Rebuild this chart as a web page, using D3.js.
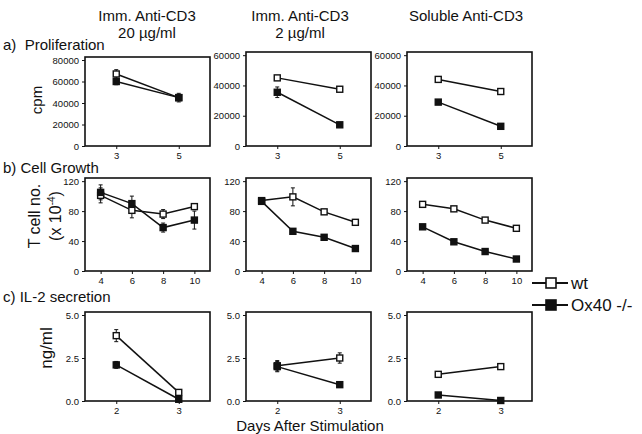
<!DOCTYPE html>
<html>
<head>
<meta charset="utf-8">
<script src="https://cdn.jsdelivr.net/npm/d3@7"></script>
<style>
  body { margin: 0; background: #fff; }
  text { font-family: "Liberation Sans", Arial, sans-serif; fill: #111; }
</style>
</head>
<body>
<script>
'use strict';

// column headers (one array of lines per column)
const columnTitles = [["Imm. Anti-CD3", "20 µg/ml"], ["Imm. Anti-CD3", "2 µg/ml"], ["Soluble Anti-CD3"]];
const rowTitles = ["a)  Proliferation", "b) Cell Growth", "c) IL-2 secretion"];
const seriesNames = ["wt", "Ox40 -/-"];

// x values (days) per row
const prolifDays = [3, 5];
const growthDays = [4, 6, 8, 10];
const il2Days = [2, 3];

// tick values
const prolifTicks = [[0, 20000, 40000, 60000, 80000], [0, 20000, 40000, 60000], [0, 20000, 40000, 60000]];
const growthTicks = [0, 40, 80, 120];
const il2Ticks = [0, 2.5, 5];

// a) proliferation, cpm (one array per column)
const prolifWt = [[67000, 45000], [45000, 37500], [44000, 36000]];
const prolifWtErr = [[4000, 2000], [1500, 800], [800, 800]];
const prolifKo = [[60000, 45000], [35500, 14000], [29000, 13000]];
const prolifKoErr = [[3000, 4000], [3500, 1000], [800, 800]];

// b) cell growth, T cell no. (x 10^-4)
const growthWt = [[101, 81, 76, 86], [94, 99, 79, 65], [89, 83, 68, 57]];
const growthWtErr = [[10, 10, 6, 3], [2, 12, 2, 3], [3, 2, 2, 3]];
const growthKo = [[105, 90, 58, 68], [93, 53, 45, 30], [59, 39, 26, 16]];
const growthKoErr = [[10, 10, 6, 12], [2, 2, 2, 2], [3, 2, 2, 2]];

// c) IL-2 secretion, ng/ml
const il2Wt = [[3.8, 0.5], [2.05, 2.5], [1.55, 2.0]];
const il2WtErr = [[0.35, 0.05], [0.3, 0.3], [0.1, 0.1]];
const il2Ko = [[2.1, 0.1], [2.0, 0.95], [0.35, 0.03]];
const il2KoErr = [[0.2, 0.05], [0.3, 0.05], [0.05, 0.03]];

// layout
const width = 642, height = 434;
const colLeft = [85, 246, 407], boxW = 125;
const rowTop = [[57, 52, 52], [178, 178, 178], [312, 312, 312]];
const rowBottom = [146, 271, 401];

const rows = [
  { days: prolifDays, xDomain: [2, 6], ticks: c => prolifTicks[c], fmt: d3.format("d"),
    wt: prolifWt, wtErr: prolifWtErr, ko: prolifKo, koErr: prolifKoErr },
  { days: growthDays, xDomain: [3, 11], ticks: () => growthTicks, fmt: d3.format("d"),
    wt: growthWt, wtErr: growthWtErr, ko: growthKo, koErr: growthKoErr },
  { days: il2Days, xDomain: [1.5, 3.5], ticks: () => il2Ticks, fmt: d3.format(".1f"),
    wt: il2Wt, wtErr: il2WtErr, ko: il2Ko, koErr: il2KoErr }
];

const svg = d3.select("body").append("svg")
  .attr("width", width)
  .attr("height", height);

// column headers
const headerX = [147, 300, 466];
columnTitles.forEach((lines, c) => {
  lines.forEach((t, i) => {
    svg.append("text")
      .attr("x", headerX[c])
      .attr("y", 21 + i * 17)
      .attr("text-anchor", "middle")
      .style("font-size", "15px")
      .text(t);
  });
});

// row titles
const rowTitleY = [50, 173, 302];
rowTitles.forEach((t, r) => {
  svg.append("text")
    .attr("x", 3)
    .attr("y", rowTitleY[r])
    .style("font-size", "15px")
    .style("white-space", "pre")
    .attr("xml:space", "preserve")
    .text(t);
});

// y axis titles
function rotated(x, y, size) {
  return svg.append("text")
    .attr("transform", `translate(${x},${y}) rotate(-90)`)
    .attr("text-anchor", "middle")
    .style("font-size", size);
}
rotated(42, 100, "15px").text("cpm");
rotated(40, 216, "16px").text("T cell no.");
let sub = rotated(61, 216, "16px");
sub.append("tspan").text("(x 10");
sub.append("tspan").attr("dy", -6).style("font-size", "10px").text("-4");
sub.append("tspan").attr("dy", 6).text(")");
rotated(52, 348, "17px").text("ng/ml");

// x axis title
svg.append("text")
  .attr("x", 310)
  .attr("y", 431)
  .attr("text-anchor", "middle")
  .style("font-size", "15px")
  .text("Days After Stimulation");

// draws one panel
function drawPanel(r, c) {
  let row = rows[r];
  let ticks = row.ticks(c);
  let yMax = ticks[ticks.length - 1];
  let top = rowTop[r][c];
  let x = d3.scaleLinear().domain(row.xDomain).range([colLeft[c], colLeft[c] + boxW]);
  let y = d3.scaleLinear().domain([0, yMax * 1.035]).range([rowBottom[r], top]);

  let g = svg.append("g");

  // frame
  g.append("rect")
    .attr("x", colLeft[c])
    .attr("y", top)
    .attr("width", boxW)
    .attr("height", rowBottom[r] - top)
    .attr("fill", "none")
    .attr("stroke", "#111")
    .attr("stroke-width", 1.6);

  let yAxis = g.append("g")
    .attr("transform", `translate(${colLeft[c]},0)`)
    .call(d3.axisLeft(y).tickValues(ticks).tickFormat(row.fmt).tickSize(3).tickPadding(3));
  let xAxis = g.append("g")
    .attr("transform", `translate(0,${rowBottom[r]})`)
    .call(d3.axisBottom(x).tickValues(row.days).tickFormat(d3.format("d")).tickSize(3).tickPadding(3));
  [xAxis, yAxis].forEach(a => {
    a.select(".domain").remove();
    a.selectAll("text").style("font-size", "9.5px").style("font-family", "Liberation Sans, Arial, sans-serif").attr("fill", "#111");
    a.selectAll("line").attr("stroke", "#111");
  });

  let series = [
    { vals: row.wt[c], errs: row.wtErr[c], fill: "#fff", size: 6 },
    { vals: row.ko[c], errs: row.koErr[c], fill: "#111", size: 6 }
  ];

  let line = d3.line()
    .x((d, i) => x(row.days[i]))
    .y(d => y(d));

  series.forEach(s => {
    // error bars
    s.vals.forEach((v, i) => {
      let cx = x(row.days[i]);
      let lo = y(Math.max(0, v - s.errs[i])), hi = y(v + s.errs[i]);
      g.append("line")
        .attr("x1", cx).attr("x2", cx)
        .attr("y1", lo).attr("y2", hi)
        .attr("stroke", "#111").attr("stroke-width", 1);
      [lo, hi].forEach(yy => {
        g.append("line")
          .attr("x1", cx - 2).attr("x2", cx + 2)
          .attr("y1", yy).attr("y2", yy)
          .attr("stroke", "#111").attr("stroke-width", 1);
      });
    });

    g.append("path")
      .datum(s.vals)
      .attr("d", line)
      .attr("fill", "none")
      .attr("stroke", "#111")
      .attr("stroke-width", 1.5);
  });

  series.forEach(s => {
    g.selectAll(null)
      .data(s.vals)
      .join("rect")
      .attr("x", (d, i) => x(row.days[i]) - s.size / 2)
      .attr("y", d => y(d) - s.size / 2)
      .attr("width", s.size)
      .attr("height", s.size)
      .attr("fill", s.fill)
      .attr("stroke", "#111")
      .attr("stroke-width", 1.4);
  });
}

for (let r = 0; r < 3; r++) {
  for (let c = 0; c < 3; c++) {
    drawPanel(r, c);
  }
}

// legend
const legendY = [283, 305];
seriesNames.forEach((name, i) => {
  let lg = svg.append("g").attr("transform", `translate(532,${legendY[i]})`);
  lg.append("line")
    .attr("x1", 0).attr("x2", 36)
    .attr("stroke", "#111").attr("stroke-width", 2);
  lg.append("rect")
    .attr("x", 14).attr("y", -5)
    .attr("width", 10).attr("height", 10)
    .attr("fill", i === 0 ? "#fff" : "#111")
    .attr("stroke", "#111").attr("stroke-width", 1.6);
  lg.append("text")
    .attr("x", 39)
    .attr("y", 6)
    .style("font-size", "17px")
    .text(name);
});
</script>
</body>
</html>
